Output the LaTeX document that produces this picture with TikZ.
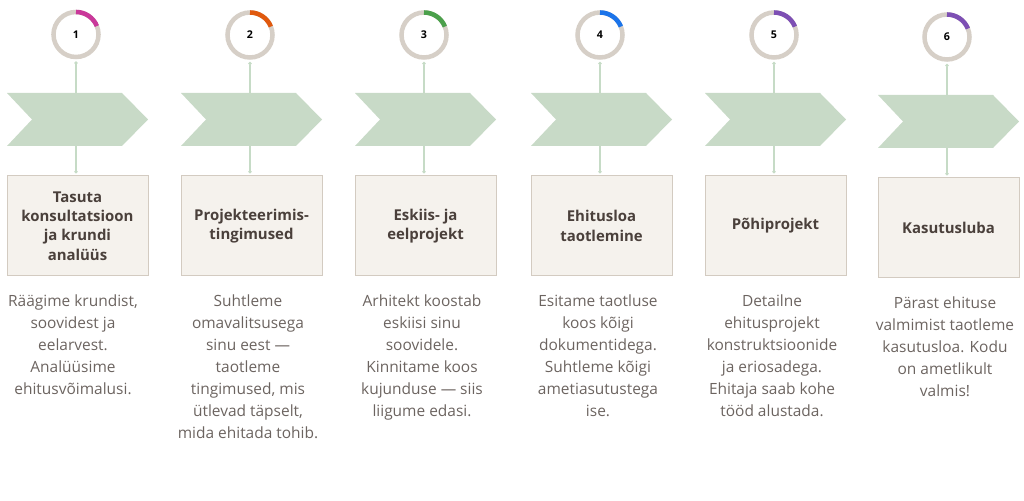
\documentclass[tikz,border=0pt]{standalone}
\usepackage{fontspec}
\setmainfont{Open Sans}
\usetikzlibrary{arrows.meta}
\definecolor{ringgray}{HTML}{D6CFC7}
\definecolor{chevgreen}{HTML}{C8DAC7}
\definecolor{linkgreen}{HTML}{C6DBC6}
\definecolor{boxfill}{HTML}{F5F2ED}
\definecolor{boxline}{HTML}{D3CBC1}
\definecolor{titlecol}{HTML}{4A403B}
\definecolor{desccol}{HTML}{6C6460}
\definecolor{prog1}{HTML}{C9389A}
\definecolor{prog2}{HTML}{E0590E}
\definecolor{prog3}{HTML}{4BA04B}
\definecolor{prog4}{HTML}{1B74EA}
\definecolor{prog5}{HTML}{7D4FB4}
\tikzset{
    ring/.style={circle,draw=ringgray,line width=3.4pt,minimum size=33.75pt,inner sep=0pt,font=\bfseries\fontsize{8}{10}\selectfont},
    progress/.style={line width=3.4pt},
    chevron/.style={fill=chevgreen},
    stepbox/.style={rectangle,draw=boxline,fill=boxfill,line width=0.75pt,minimum width=105.75pt,minimum height=75pt,align=center,text=titlecol,font=\bfseries\fontsize{11.2}{14.6}\selectfont},
    desc/.style={anchor=north,inner sep=0pt,align=center,text=desccol,font=\fontsize{11.6}{16.5}\selectfont,execute at begin node=\strut},
    link/.style={draw=linkgreen,line width=0.8pt,{Circle[length=2.5pt]}-{Circle[length=2.5pt]},shorten <=1.5pt,shorten >=1.5pt},
}

\begin{document}
\begin{tikzpicture}[x=0.75pt,y=0.75pt]
    \useasboundingbox (0,0) rectangle (1024,500);

    % rings
    \node[ring] (r1) at (76,465.5) {1};
    \node[ring] (r2) at (250,465) {2};
    \node[ring] (r3) at (424,465) {3};
    \node[ring] (r4) at (600,465) {4};
    \node[ring] (r5) at (774,465) {5};
    \node[ring] (r6) at (947,463) {6};

    % boxes
    \node[stepbox] (b1) at (77.5,274) {Tasuta\\konsultatsioon\\ja krundi\\analüüs};
    \node[stepbox] (b2) at (251.5,274) {Projekteerimis-\\tingimused};
    \node[stepbox] (b3) at (425.5,274) {Eskiis- ja\\eelprojekt};
    \node[stepbox] (b4) at (601.5,274) {Ehitusloa\\taotlemine};
    \node[stepbox] (b5) at (775.5,274) {Põhiprojekt};
    \node[stepbox] (b6) at (948.5,272) {Kasutusluba};

    % connectors
    \draw[link] (r1) -- (b1.north -| r1);
    \draw[link] (r2) -- (b2.north -| r2);
    \draw[link] (r3) -- (b3.north -| r3);
    \draw[link] (r4) -- (b4.north -| r4);
    \draw[link] (r5) -- (b5.north -| r5);
    \draw[link] (r6) -- (b6.north -| r6);

    % chevrons
    \coordinate (a1) at (76,380.5);
    \coordinate (a2) at (250,380.5);
    \coordinate (a3) at (424,380.5);
    \coordinate (a4) at (600,380.5);
    \coordinate (a5) at (774,380.5);
    \coordinate (a6) at (947,378.5);
    \fill[chevron] (a1) ++(-69,26.5) -- ++(115,0) -- ++(26,-26.5) -- ++(-26,-26.5) -- ++(-115,0) -- ++(25,26.5) -- cycle;
    \fill[chevron] (a2) ++(-69,26.5) -- ++(115,0) -- ++(26,-26.5) -- ++(-26,-26.5) -- ++(-115,0) -- ++(25,26.5) -- cycle;
    \fill[chevron] (a3) ++(-69,26.5) -- ++(115,0) -- ++(26,-26.5) -- ++(-26,-26.5) -- ++(-115,0) -- ++(25,26.5) -- cycle;
    \fill[chevron] (a4) ++(-69,26.5) -- ++(115,0) -- ++(26,-26.5) -- ++(-26,-26.5) -- ++(-115,0) -- ++(25,26.5) -- cycle;
    \fill[chevron] (a5) ++(-69,26.5) -- ++(115,0) -- ++(26,-26.5) -- ++(-26,-26.5) -- ++(-115,0) -- ++(25,26.5) -- cycle;
    \fill[chevron] (a6) ++(-69,26.5) -- ++(115,0) -- ++(26,-26.5) -- ++(-26,-26.5) -- ++(-115,0) -- ++(25,26.5) -- cycle;

    % progress arcs
    \draw[progress,prog1] (r1.center) ++(90:22.5) arc[start angle=90,end angle=22,radius=22.5];
    \draw[progress,prog2] (r2.center) ++(90:22.5) arc[start angle=90,end angle=22,radius=22.5];
    \draw[progress,prog3] (r3.center) ++(90:22.5) arc[start angle=90,end angle=22,radius=22.5];
    \draw[progress,prog4] (r4.center) ++(90:22.5) arc[start angle=90,end angle=22,radius=22.5];
    \draw[progress,prog5] (r5.center) ++(90:22.5) arc[start angle=90,end angle=22,radius=22.5];
    \draw[progress,prog5] (r6.center) ++(90:22.5) arc[start angle=90,end angle=22,radius=22.5];

    % descriptions
    \node[desc] (d1) at (73,206) {Räägime krundist,\\soovidest ja\\eelarvest.\\Analüüsime\\ehitusvõimalusi.};
    \node[desc] (d2) at (248,206) {Suhtleme\\omavalitsusega\\sinu eest —\\taotleme\\tingimused, mis\\ütlevad täpselt,\\mida ehitada tohib.};
    \node[desc] (d3) at (422,206) {Arhitekt koostab\\eskiisi sinu\\soovidele.\\Kinnitame koos\\kujunduse — siis\\liigume edasi.};
    \node[desc] (d4) at (598,206) {Esitame taotluse\\koos kõigi\\dokumentidega.\\Suhtleme kõigi\\ametiasutustega\\ise.};
    \node[desc] (d5) at (772,206) {Detailne\\ehitusprojekt\\konstruktsioonide\\ja eriosadega.\\Ehitaja saab kohe\\tööd alustada.};
    \node[desc] (d6) at (945,204) {Pärast ehituse\\valmimist taotleme\\kasutusloa. Kodu\\on ametlikult\\valmis!};
\end{tikzpicture}
\end{document}
